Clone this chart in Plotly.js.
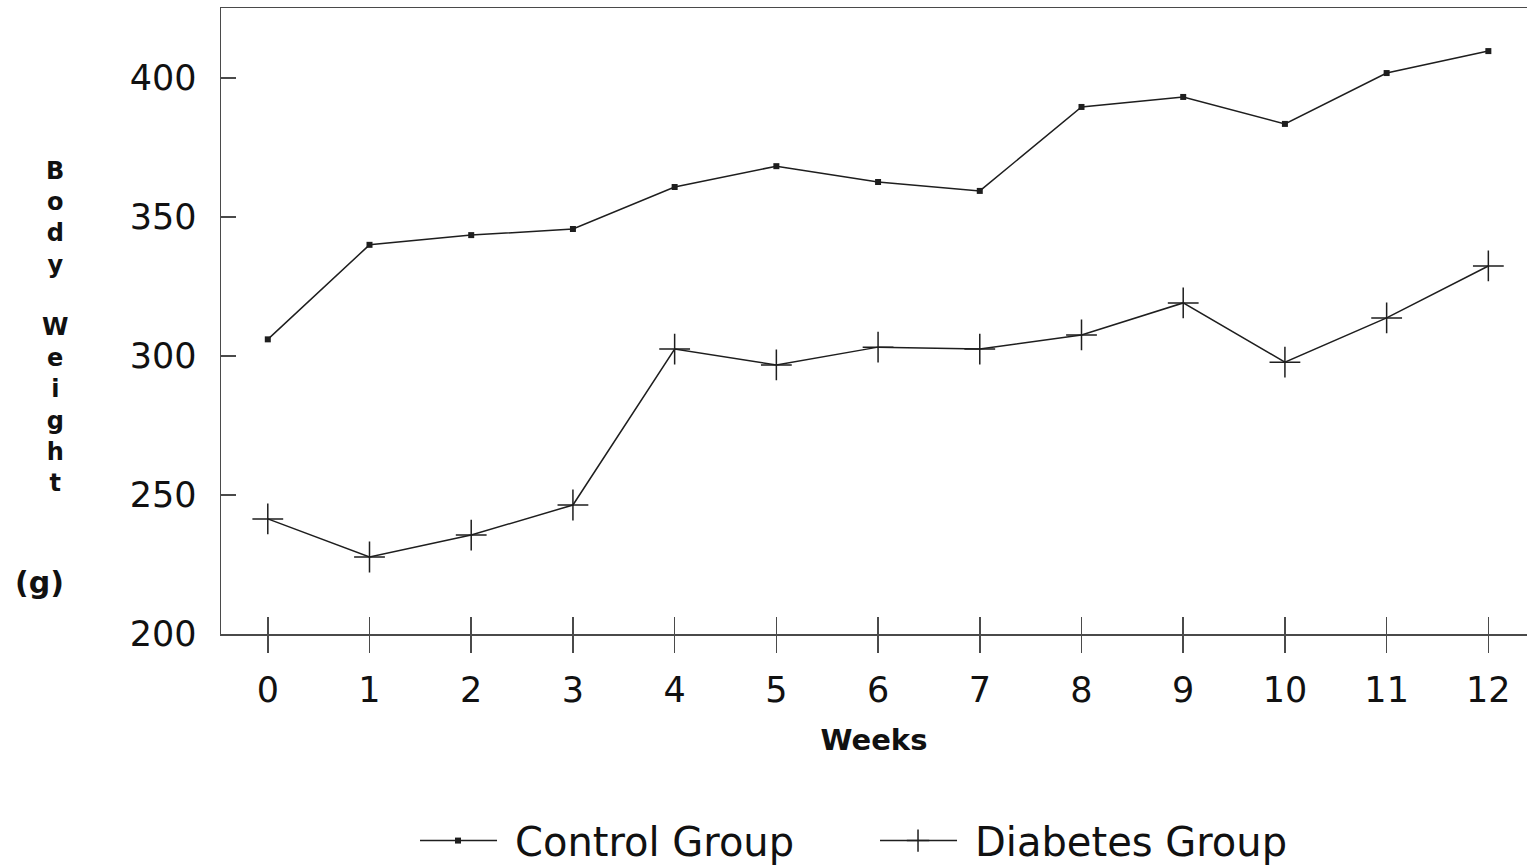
<!DOCTYPE html>
<html>
<head>
<meta charset="utf-8">
<script src="https://cdn.plot.ly/plotly-3.0.1.min.js"></script>
<style>
  html, body { margin: 0; padding: 0; background: #fff; }
  #chart { width: 1527px; height: 865px; }
</style>
</head>
<body>
<div id="chart"></div>
<script>
const weeks = [0, 1, 2, 3, 4, 5, 6, 7, 8, 9, 10, 11, 12];
const controlGroup = [306, 340, 343.5, 345.7, 360.8, 368.3, 362.6, 359.4, 389.6, 393.2, 383.5, 401.8, 409.7];
const diabetesGroup = [241.4, 227.7, 235.6, 246.4, 302.5, 296.8, 303.2, 302.5, 307.6, 319.1, 297.8, 313.7, 332.4];
const yTicks = [200, 250, 300, 350, 400];
const seriesNames = ["Control Group", "Diabetes Group"];

const ink = "#1e1e1e";
const axisInk = "#4a4a4a";
const fontFam = "DejaVu Sans, Arial, sans-serif";

const traces = [
  {
    x: weeks, y: controlGroup, name: seriesNames[0], type: "scatter", mode: "lines+markers",
    line: { color: ink, width: 1.5 },
    marker: { symbol: "square", size: 6, color: ink }
  },
  {
    x: weeks, y: diabetesGroup, name: seriesNames[1], type: "scatter", mode: "lines+markers",
    line: { color: ink, width: 1.5 },
    marker: { symbol: "cross-thin", size: 22, line: { color: ink, width: 1.5 } }
  },
  {
    x: [], y: [], xaxis: "x2", yaxis: "y", showlegend: false, hoverinfo: "skip", type: "scatter", mode: "markers"
  }
];

const layout = {
  width: 1527, height: 865,
  margin: { l: 221, r: 0, t: 8, b: 231, autoexpand: false },
  paper_bgcolor: "#fff", plot_bgcolor: "#fff",
  font: { family: fontFam, color: "#111" },
  showlegend: true,
  legend: {
    orientation: "h", x: 0.1945, xanchor: "left", y: -0.33, yanchor: "middle",
    font: { size: 40, family: fontFam, color: "#111" },
    entrywidth: 415, itemwidth: 30, traceorder: "normal"
  },
  xaxis: {
    range: [-0.46, 12.38], tickvals: weeks, ticktext: weeks.map(String),
    ticks: "outside", ticklen: 17, tickwidth: 1.5, tickcolor: axisInk,
    showline: true, linecolor: axisInk, linewidth: 1.5, mirror: true,
    showgrid: false, zeroline: false,
    tickfont: { size: 35, family: fontFam, color: "#111" },
    ticklabelstandoff: 7,
    title: { text: "Weeks", font: { size: 29, family: fontFam, weight: "bold", color: "#111" }, standoff: 21 }
  },
  xaxis2: {
    range: [-0.46, 12.38], tickvals: weeks, overlaying: "x", anchor: "y", side: "bottom",
    ticks: "inside", ticklen: 17, tickwidth: 1.5, tickcolor: axisInk,
    showticklabels: false, showline: false, showgrid: false, zeroline: false
  },
  yaxis: {
    range: [200, 425.2], tickvals: yTicks, ticktext: yTicks.map(String),
    ticks: "inside", ticklen: 15, tickwidth: 1.5, tickcolor: axisInk,
    showline: true, linecolor: axisInk, linewidth: 1.5, mirror: false,
    showgrid: false, zeroline: false,
    tickfont: { size: 35, family: fontFam, color: "#111" },
    ticklabelstandoff: 16
  },
  annotations: [
    {
      text: "B<br>o<br>d<br>y<br> <br>W<br>e<br>i<br>g<br>h<br>t",
      xref: "paper", yref: "paper", x: -0.1271, y: 0.491, xanchor: "center", yanchor: "middle",
      showarrow: false, font: { size: 24, family: fontFam, weight: "bold", color: "#111" }
    },
    {
      text: "(g)",
      xref: "paper", yref: "paper", x: -0.1386, y: 0.083, xanchor: "center", yanchor: "middle",
      showarrow: false, font: { size: 30, family: fontFam, weight: "bold", color: "#111" }
    }
  ]
};

function styleLegendSymbols() {
  // let legend symbols extend left of the legend box
  document.querySelectorAll("#chart .legend [clip-path]").forEach(e => e.removeAttribute("clip-path"));
  // lengthen the legend sample lines to resemble the original figure:
  // line spans 95px..18px before the text start, marker 57px before it
  document.querySelectorAll("#chart .legend .traces").forEach(tr => {
    const txt = tr.querySelector("text.legendtext");
    if (!txt) return;
    const tx = parseFloat(txt.getAttribute("x")) || 40;
    tr.querySelectorAll(".legendsymbols, .legendlines, .legendpoints").forEach(g => g.removeAttribute("transform"));
    tr.querySelectorAll(".legendlines path").forEach(p => {
      p.removeAttribute("transform");
      p.setAttribute("d", "M" + (tx - 95) + ",0h77");
    });
    tr.querySelectorAll(".legendpoints path").forEach(p => {
      p.setAttribute("transform", "translate(" + (tx - 57) + ",0)");
    });
  });
}

Plotly.newPlot("chart", traces, layout, { staticPlot: true, displayModeBar: false }).then(gd => {
  styleLegendSymbols();
  gd.on("plotly_afterplot", styleLegendSymbols);
});
</script>
</body>
</html>
